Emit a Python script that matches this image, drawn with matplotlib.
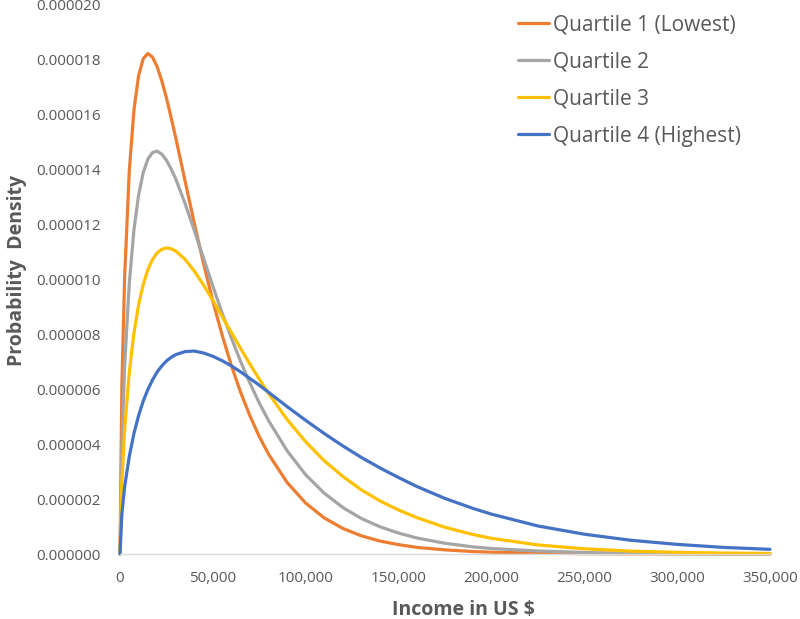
import numpy as np
import matplotlib
matplotlib.use("Agg")
import matplotlib.pyplot as plt
from matplotlib.ticker import FuncFormatter

plt.rcParams['font.family'] = ['Open Sans', 'DejaVu Sans']

# income in US $ (x) and probability density in units of 1e-6
income = [0, 1000, 2500, 5000, 7500, 10000, 12500, 15000, 17500, 20000,
          22500, 25000, 27500, 30000, 35000, 40000, 45000, 50000, 55000, 60000,
          65000, 70000, 75000, 80000, 90000, 100000, 110000, 120000, 130000, 140000,
          150000, 160000, 175000, 190000, 200000, 225000, 250000, 275000, 300000, 325000,
          350000]

q1 = [0, 6.11, 10.08, 13.93, 16.14, 17.39, 18.01, 18.20, 18.07, 17.72,
      17.21, 16.59, 15.88, 15.14, 13.58, 12.03, 10.56, 9.19, 7.96, 6.85,
      5.87, 5.02, 4.27, 3.63, 2.60, 1.85, 1.31, 0.93, 0.66, 0.47,
      0.34, 0.24, 0.15, 0.09, 0.065, 0.03, 0.013, 0.006, 0.003, 0.0015,
      0.0008]
q2 = [0, 3.97, 6.83, 9.84, 11.78, 13.05, 13.87, 14.36, 14.60, 14.65,
      14.54, 14.32, 14.01, 13.64, 12.75, 11.77, 10.75, 9.74, 8.76, 7.85,
      6.99, 6.21, 5.49, 4.85, 3.75, 2.88, 2.21, 1.69, 1.29, 0.99,
      0.76, 0.58, 0.39, 0.26, 0.20, 0.11, 0.055, 0.028, 0.014, 0.007,
      0.004]
q3 = [0, 2.62, 4.52, 6.60, 8.03, 9.06, 9.80, 10.34, 10.71, 10.95,
      11.08, 11.13, 11.10, 11.02, 10.72, 10.29, 9.78, 9.22, 8.64, 8.05,
      7.47, 6.90, 6.36, 5.84, 4.89, 4.08, 3.39, 2.82, 2.33, 1.93,
      1.60, 1.32, 0.97, 0.71, 0.57, 0.33, 0.19, 0.105, 0.06, 0.034,
      0.02]
q4 = [0, 1.45, 2.45, 3.55, 4.38, 5.03, 5.56, 5.98, 6.33, 6.62,
      6.84, 7.02, 7.15, 7.25, 7.36, 7.38, 7.31, 7.19, 7.03, 6.84,
      6.62, 6.38, 6.14, 5.88, 5.36, 4.86, 4.38, 3.93, 3.51, 3.13,
      2.78, 2.45, 2.02, 1.66, 1.45, 1.02, 0.72, 0.50, 0.35, 0.24,
      0.17]

labels = ['Quartile 1 (Lowest)', 'Quartile 2', 'Quartile 3', 'Quartile 4 (Highest)']
colors = ['#ED7D31', '#A5A5A5', '#FFC000', '#4472C4']
SCALE = 1e-6

x_ticks = [0, 50000, 100000, 150000, 200000, 250000, 300000, 350000]
y_ticks = [0, 0.000002, 0.000004, 0.000006, 0.000008, 0.000010,
           0.000012, 0.000014, 0.000016, 0.000018, 0.000020]

txt = '#595959'

fig = plt.figure(figsize=(8, 6.19), dpi=100)
ax = fig.add_axes([0.15, 0.105, 0.8125, 0.8885])

for ys, lab, c in zip([q1, q2, q3, q4], labels, colors):
    ax.plot(income, np.array(ys) * SCALE, color=c, lw=2.3, label=lab,
            solid_capstyle='round', clip_on=False)

ax.set_xlim(0, 350000)
ax.set_ylim(0, 0.00002)
ax.set_xticks(x_ticks)
ax.set_yticks(y_ticks)
ax.xaxis.set_major_formatter(FuncFormatter(lambda v, p: '{:,.0f}'.format(v)))
ax.yaxis.set_major_formatter(FuncFormatter(lambda v, p: '{:.6f}'.format(v)))
ax.tick_params(axis='both', length=0, labelsize=11, colors=txt)
ax.tick_params(axis='y', pad=14)
ax.tick_params(axis='x', pad=12)

for s in ['top', 'right', 'left']:
    ax.spines[s].set_visible(False)
ax.spines['bottom'].set_color('#D9D9D9')
ax.spines['bottom'].set_linewidth(1.0)

ax.set_xlabel('Income in US $', fontsize=14, fontweight='bold', color=txt)
ax.xaxis.set_label_coords(0.528, -0.083)
ax.set_ylabel('Probability  Density', fontsize=14, fontweight='bold', color=txt)
ax.yaxis.set_label_coords(-0.143, 0.516)

leg = fig.legend(loc='upper left', bbox_to_anchor=(518 / 800, 1 - 14 / 619),
                 bbox_transform=fig.transFigure, frameon=False,
                 fontsize=15, handlelength=1.5, handletextpad=0.2,
                 labelspacing=0.78, borderaxespad=0, borderpad=0)
for t in leg.get_texts():
    t.set_color(txt)

fig.savefig('out.png', dpi=100)
